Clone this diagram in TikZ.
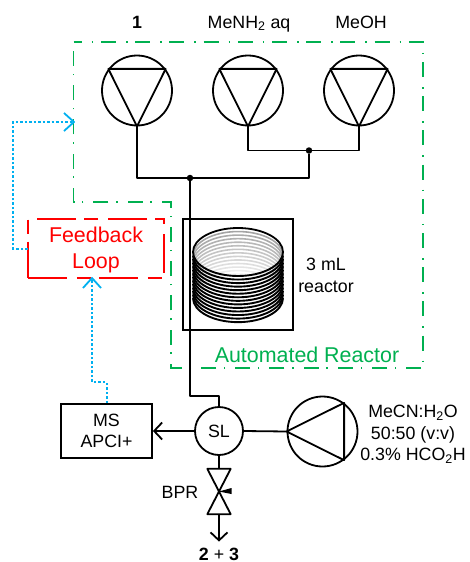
\documentclass[tikz,border=0pt]{standalone}
\usepackage{fontspec}
\setmainfont{Liberation Sans}
\usetikzlibrary{arrows.meta}
\definecolor{arcolor}{RGB}{0,176,80}
\definecolor{fbcolor}{RGB}{0,176,240}
\tikzstyle{pipe}=[line width=1.8pt,line join=round,>={Straight Barb[length=8pt,width=17pt,line width=1.8pt]}]
\tikzstyle{pump}=[circle,draw,line width=1.8pt,minimum size=70pt,inner sep=0pt]
\tikzstyle{junction}=[circle,fill=black,minimum size=6.5pt,inner sep=0pt]
\tikzstyle{label}=[font=\fontsize{17.8}{20}\selectfont,inner sep=0pt,text depth=0pt,align=center]
\tikzstyle{biglabel}=[font=\fontsize{21.4}{26}\selectfont,inner sep=0pt,align=center]
\tikzstyle{signal}=[fbcolor,line width=2pt,dash pattern=on 2.5pt off 2pt]
\tikzstyle{signaltip}=[fbcolor,line width=1.8pt,line join=round]

\begin{document}
\begin{tikzpicture}[x=1pt,y=-1pt]
\useasboundingbox (0,0) rectangle (469,562);
\draw[arcolor,line width=1.8pt,dash pattern=on 15pt off 10pt on 1.5pt off 7.7pt,dash phase=6.7pt] (73.5,42) -- (423,42) -- (423,368) -- (171,368) -- (171,202) -- (73.5,202) -- cycle;
\node[pump] at (137,90.5) (pa) {};
\node[pump] at (248,90.5) (pb) {};
\node[pump] at (359,90.5) (pc) {};
\node[pump] at (322.5,431.5) (pd) {};
\draw[pipe] (pa.south) -- (pa.37) -- (pa.143) -- cycle;
\draw[pipe] (pb.south) -- (pb.37) -- (pb.143) -- cycle;
\draw[pipe] (pc.south) -- (pc.37) -- (pc.143) -- cycle;
\draw[pipe] (pd.west) -- (pd.53) -- (pd.-53) -- cycle;
\node[label] at (137,22) (la) {\textbf{1}};
\node[label] at (249,22) (lb) {MeNH\textsubscript{2} aq};
\node[label] at (361,22) (lc) {MeOH};
\node[junction] at (190,178) (ja) {};
\node[junction] at (309,150.5) (jb) {};
\node[draw,line width=1.8pt,minimum width=110pt,minimum height=111pt,inner sep=0pt] at (238,274.5) (rc) {};
\foreach \i in {13,12,...,1} {
  \pgfmathsetmacro{\g}{38-\i*2.5}
  \draw[black!\g,line width=1.6pt] (193,252+\i*3.55) arc[start angle=180,end angle=0,x radius=45pt,y radius=24pt];
}
\draw[line width=1.8pt] (193,252) arc[start angle=180,end angle=0,x radius=45pt,y radius=24pt];
\foreach \i in {0,...,13} {
  \draw[line width=1.9pt] (193,252+\i*3.55) arc[start angle=180,end angle=360,x radius=45pt,y radius=24pt];
}
\node[label] at (326,264) (lv) {3 mL};
\node[label] at (326,287) (lr) {reactor};
\node[biglabel,arcolor] at (307,355) (ar) {Automated Reactor};
\node[minimum width=136pt,minimum height=59pt,inner sep=0pt] at (96,248.5) (fb) {};
\draw[red,line width=1.8pt,dash pattern=on 39pt off 10pt on 14pt off 8pt] (fb.south west) -- (fb.south east) -- (fb.north east) -- (fb.north west) -- cycle;
\node[biglabel,red] at (96,250) (lf) {Feedback\\Loop};
\node[draw,line width=1.8pt,minimum width=91pt,minimum height=54pt,label,inner sep=0pt] at (106.5,431) (ms) {MS\\[1.5pt]APCI+};
\node[circle,draw,line width=1.8pt,minimum size=48pt,inner sep=0pt,label] at (219,431) (sl) {SL};
\node[minimum width=23pt,minimum height=45pt,inner sep=0pt] at (219,491.5) (bpr) {};
\node[label] at (180,492) (lp) {BPR};
\node[label] at (219,554.5) (prod) {\textbf{2} + \textbf{3}};
\node[label] at (413,433) (ld) {MeCN:H\textsubscript{2}O\\[1.5pt]50:50 (v:v)\\[1.5pt]0.3\% HCO\textsubscript{2}H};
\coordinate (bend) at (190,396);
\coordinate (fbl) at (13,248.5);
\coordinate (arin) at (74,122);
\coordinate (msup) at (92,382);
\coordinate (fbin) at (92,278);
\draw[pipe] (pa.south) |- (ja);
\draw[pipe] (ja) -| (jb);
\draw[pipe] (pb.south) |- (jb);
\draw[pipe] (pc.south) |- (jb);
\draw[pipe] (ja) -- (bend) -| (sl.north);
\draw[pipe,->] (sl.west) -- (ms.east);
\draw[pipe] (sl.east) -- (pd.west);
\draw[pipe] (sl.south) -- (bpr.north);
\draw[pipe,->,shorten >=6.5pt] (bpr.south) -- (prod.north);
\draw[pipe] (bpr.north west) -- (bpr.south east) -- (bpr.south west) -- (bpr.north east) -- cycle;
\fill (bpr.center) -- (231.5,488) -- (231.5,494) -- cycle;
\draw[signal] (fb.west) -- (fbl) |- (arin);
\draw[signaltip] (arin) ++(-10,-9) -- (arin) -- ++(-10,9);
\draw[signal] (ms.north) |- (msup) -- (fbin);
\draw[signaltip] (fbin) ++(-9,10) -- (fbin) -- ++(9,10);
\end{tikzpicture}
\end{document}
